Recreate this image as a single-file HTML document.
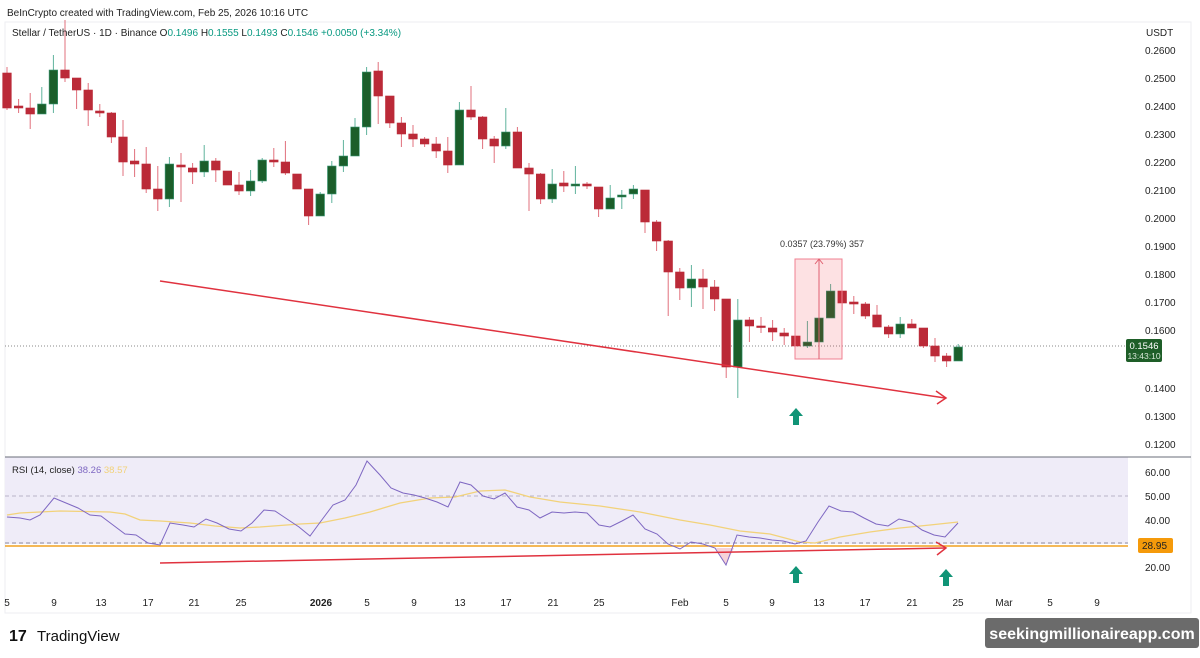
<!DOCTYPE html>
<html><head><meta charset="utf-8"><style>
html,body{margin:0;padding:0;background:#fff;}
body{width:1200px;height:658px;overflow:hidden;position:relative;font-family:"Liberation Sans",sans-serif;}
svg{position:absolute;left:0;top:0;}
</style></head><body>
<svg id="s" width="1200" height="658" viewBox="0 0 1200 658" xmlns="http://www.w3.org/2000/svg" font-family="Liberation Sans, sans-serif">
<rect x="5" y="22" width="1186" height="591" fill="#fff" stroke="#eceef2"/>
<rect x="5" y="457" width="1123" height="87" fill="#efecf8"/>
<line x1="5" y1="457" x2="1191" y2="457" stroke="#6a6d78" stroke-width="1"/>
<line x1="5" y1="496" x2="1128" y2="496" stroke="#b8b4c8" stroke-dasharray="4,3"/>
<line x1="5" y1="543" x2="1128" y2="543" stroke="#8e8a9c" stroke-dasharray="4,3"/>
<line x1="5" y1="546" x2="1128" y2="546" stroke="#f0a020" stroke-width="1.5"/>
<line x1="5" y1="346" x2="1128" y2="346" stroke="#888" stroke-dasharray="1,2"/>
<g id="candles"></g>
<path d="M716,548 L726,565 L734,548 Z" fill="#f4c8d0" opacity="0.8"/>
<polyline id="ma" fill="none" stroke="#f2d27a" stroke-width="1.3"/>
<polyline id="rsi" fill="none" stroke="#7e67c2" stroke-width="1"/>
<rect x="795" y="259" width="47" height="100" fill="#f23645" fill-opacity="0.15" stroke="#f08090" stroke-width="1"/>
<line x1="819" y1="259" x2="819" y2="359" stroke="#e06070"/>
<path d="M815,264 L819,259 L823,264" fill="none" stroke="#e06070"/>
<text x="780" y="247" font-size="9" fill="#333">0.0357 (23.79%) 357</text>
<line x1="160" y1="281" x2="945" y2="398" stroke="#e0323f" stroke-width="1.5"/>
<path d="M936,391 L946,398 L937,404" fill="none" stroke="#e0323f" stroke-width="1.5"/>
<line x1="160" y1="563" x2="945" y2="548" stroke="#e0323f" stroke-width="1.5"/>
<path d="M936,542 L946,548 L937,555" fill="none" stroke="#e0323f" stroke-width="1.5"/>
<g fill="#109476">
<path d="M796,408 L803,416 L799,416 L799,425 L793,425 L793,416 L789,416 Z"/>
<path d="M796,566 L803,574 L799,574 L799,583 L793,583 L793,574 L789,574 Z"/>
<path d="M946,569 L953,577 L949,577 L949,586 L943,586 L943,577 L939,577 Z"/>
</g>
<g font-size="10" fill="#222">
<text x="1146" y="36">USDT</text>
<text x="1145" y="54">0.2600</text><text x="1145" y="82">0.2500</text><text x="1145" y="110">0.2400</text>
<text x="1145" y="138">0.2300</text><text x="1145" y="166">0.2200</text><text x="1145" y="194">0.2100</text>
<text x="1145" y="222">0.2000</text><text x="1145" y="250">0.1900</text><text x="1145" y="278">0.1800</text>
<text x="1145" y="306">0.1700</text><text x="1145" y="334">0.1600</text><text x="1145" y="392">0.1400</text>
<text x="1145" y="420">0.1300</text><text x="1145" y="448">0.1200</text>
<text x="1145" y="476">60.00</text><text x="1145" y="500">50.00</text><text x="1145" y="524">40.00</text>
<text x="1145" y="571">20.00</text>
</g>
<rect x="1126" y="339" width="36" height="23" rx="2" fill="#1e5e28"/>
<text x="1144" y="349" font-size="9.5" fill="#fff" text-anchor="middle">0.1546</text>
<text x="1144" y="359" font-size="8.5" fill="#d8e8d8" text-anchor="middle">13:43:10</text>
<rect x="1138" y="538" width="35" height="15" rx="2" fill="#f59a0a"/>
<text x="1142" y="549" font-size="10" fill="#222">28.95</text>
<g font-size="10" fill="#222" text-anchor="middle">
<text x="7" y="606">5</text><text x="54" y="606">9</text><text x="101" y="606">13</text><text x="148" y="606">17</text>
<text x="194" y="606">21</text><text x="241" y="606">25</text><text x="321" y="606" font-weight="bold">2026</text>
<text x="367" y="606">5</text><text x="414" y="606">9</text><text x="460" y="606">13</text><text x="506" y="606">17</text>
<text x="553" y="606">21</text><text x="599" y="606">25</text><text x="680" y="606">Feb</text><text x="726" y="606">5</text>
<text x="772" y="606">9</text><text x="819" y="606">13</text><text x="865" y="606">17</text><text x="912" y="606">21</text>
<text x="958" y="606">25</text><text x="1004" y="606">Mar</text><text x="1050" y="606">5</text><text x="1097" y="606">9</text>
</g>
<text x="7" y="16" font-size="10" fill="#222">BeInCrypto created with TradingView.com, Feb 25, 2026 10:16 UTC</text>
<text x="12" y="36" font-size="10" fill="#222">Stellar / TetherUS · 1D · Binance <tspan fill="#222">O</tspan><tspan fill="#089981">0.1496</tspan> <tspan fill="#222">H</tspan><tspan fill="#089981">0.1555</tspan> <tspan fill="#222">L</tspan><tspan fill="#089981">0.1493</tspan> <tspan fill="#222">C</tspan><tspan fill="#089981">0.1546</tspan> <tspan fill="#089981">+0.0050 (+3.34%)</tspan></text>
<text x="12" y="473" font-size="9.5" fill="#222">RSI (14, close) <tspan fill="#7e67c2">38.26</tspan> <tspan fill="#f2d27a">38.57</tspan></text>
<text x="9" y="641" font-size="16" font-weight="bold" fill="#111">17</text>
<text x="37" y="641" font-size="15" fill="#111">TradingView</text>
<rect x="985" y="618" width="214" height="30" rx="3" fill="#6b6b6b"/>
<text x="1092" y="639" font-size="16" font-weight="bold" fill="#fff" text-anchor="middle">seekingmillionaireapp.com</text>
</svg>
<script>
var D=[["r",73,108,67,110],["r",106,108,99,113],["r",108,114,93,129],["g",104,114,87,114],["g",70,104,55,113],["r",70,78,20,82],["r",78,90,78,109],["r",90,110,83,126],["r",111,113,104,117],["r",113,137,112,143],["r",137,162,120,176],["r",161,164,149,177],["r",164,189,147,193],["r",189,199,166,211],["g",164,199,157,207],["r",165,167,153,202],["r",168,172,163,184],["g",161,172,145,177],["r",161,170,158,182],["r",171,185,171,185],["r",185,191,172,195],["g",181,191,170,196],["g",160,181,158,183],["r",160,162,148,167],["r",162,173,141,175],["r",174,189,174,189],["r",189,216,189,225],["g",194,216,192,216],["g",166,194,161,203],["g",156,166,140,172],["g",127,156,118,156],["g",72,127,67,135],["r",71,96,62,124],["r",96,123,96,128],["r",123,134,117,147],["r",134,139,125,147],["r",139,144,137,147],["r",144,151,137,158],["r",151,165,137,173],["g",110,165,102,165],["r",110,117,86,120],["r",117,139,116,149],["r",139,146,136,163],["g",132,146,108,149],["r",132,168,127,168],["r",168,174,163,211],["r",174,199,173,204],["g",184,199,169,203],["r",183,186,171,192],["g",184,186,166,194],["r",184,186,182,189],["r",187,209,187,217],["g",198,209,185,209],["g",195,197,190,209],["g",189,194,185,199],["r",190,222,190,233],["r",222,241,220,251],["r",241,272,240,316],["r",272,288,268,300],["g",279,288,265,307],["r",279,287,269,309],["r",287,299,280,311],["r",299,367,299,378],["g",320,367,299,398],["r",320,326,317,342],["r",326,327,317,333],["r",328,332,320,341],["r",333,336,328,345],["r",336,346,336,346],["g",342,346,321,348],["g",318,342,318,342],["g",291,318,284,318],["r",291,303,291,310],["r",302,304,296,314],["r",304,316,302,319],["r",315,327,305,327],["r",327,334,325,338],["g",324,334,317,338],["r",324,328,319,328],["r",328,346,328,348],["r",346,356,338,362],["r",356,361,353,367],["g",347,361,344,361]];
var g=document.getElementById("candles"),h="";
D.forEach(function(c,i){var x=7+11.6*i;var red=c[0]=="r";var wc=red?"#e0707c":"#5fb39c",bc=red?"#bb2a38":"#1b5e2a",bs=red?"#bb2a38":"#3a9a78";
h+='<line x1="'+x+'" y1="'+c[3]+'" x2="'+x+'" y2="'+c[4]+'" stroke="'+wc+'" stroke-width="1"/>';
var hgt=Math.max(c[2]-c[1],1.5);h+='<rect x="'+(x-4.3)+'" y="'+c[1]+'" width="8.6" height="'+hgt+'" fill="'+bc+'" stroke="'+bs+'" stroke-width="0.6"/>';});
g.innerHTML=h;
var R=[[7,517],[20,518],[30,520],[40,515],[54,498],[66,503],[78,508],[90,515],[101,516],[113,525],[125,534],[136,535],[148,543],[160,545],[170,523],[183,525],[194,527],[206,519],[217,523],[229,529],[241,531],[252,523],[264,510],[275,511],[287,519],[299,527],[310,536],[321,521],[333,505],[345,500],[356,485],[367,461],[380,475],[391,488],[403,493],[414,495],[425,498],[437,502],[448,507],[460,482],[471,485],[483,496],[494,499],[505,493],[517,507],[529,510],[540,518],[552,512],[564,513],[575,512],[587,513],[599,525],[610,527],[622,521],[633,515],[645,529],[657,534],[668,544],[680,549],[691,542],[703,544],[715,548],[726,565],[737,535],[749,537],[760,538],[772,540],[783,541],[795,544],[806,541],[818,522],[829,506],[841,511],[853,512],[864,518],[876,524],[888,526],[899,519],[911,522],[922,530],[934,535],[945,537],[958,523]];
var M=[[7,515],[20,513],[60,511],[110,512],[125,514],[140,520],[160,521],[190,523],[215,526],[240,528],[260,527],[300,524],[320,523],[345,518],[370,512],[400,503],[430,498],[455,497],[480,491],[505,490],[530,497],[560,502],[600,506],[640,512],[680,520],[710,525],[740,531],[770,534],[800,542],[815,543],[840,537],[870,532],[900,528],[930,525],[958,522]];
document.getElementById("rsi").setAttribute("points",R.map(function(p){return p.join(",")}).join(" "));
document.getElementById("ma").setAttribute("points",M.map(function(p){return p.join(",")}).join(" "));
</script>
</body></html>
